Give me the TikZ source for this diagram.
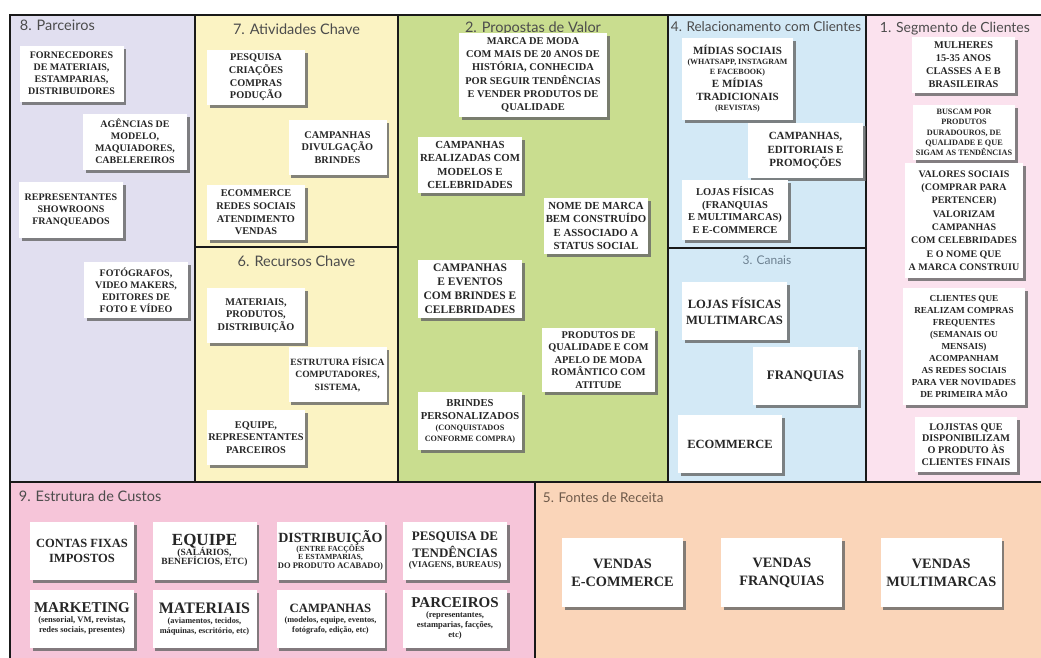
\documentclass[tikz,border=0pt]{standalone}
\usepackage{fontspec}
\setmainfont{Liberation Serif}
\newfontfamily\headfont{Lato}
\usepackage{tikz}
\usetikzlibrary{shadows}
\usetikzlibrary{positioning}
\definecolor{lavanda}{HTML}{E1DFF0}
\definecolor{amarelo}{HTML}{FBF3C3}
\definecolor{verde}{HTML}{C9DD8F}
\definecolor{azul}{HTML}{D3E9F6}
\definecolor{rosaclaro}{HTML}{FBE2EE}
\definecolor{rosa}{HTML}{F6C5D9}
\definecolor{pessego}{HTML}{FAD5B9}
\definecolor{cinzaazul}{HTML}{6C8090}
\definecolor{marrom}{HTML}{6E5A4A}
\newcommand{\sz}[2]{{\fontsize{#1}{#1}\selectfont #2}}
\tikzstyle{region} = [rectangle, draw=black!90, line width=2.5pt, inner sep=0pt]
\tikzstyle{card} = [rectangle, fill=white, align=center, inner sep=1pt,
    minimum width=104pt, minimum height=56pt, text=black!85,
    font=\bfseries\fontsize{10}{12}\selectfont,
    drop shadow={shadow xshift=2.5pt, shadow yshift=-3pt, fill=black!60, opacity=.8}]
\tikzstyle{midcard} = [card, minimum width=98pt, minimum height=55pt,
    font=\bfseries\fontsize{10.3}{12.7}\selectfont]
\tikzstyle{costcard} = [card, minimum height=58pt, font=\bfseries\fontsize{10}{11}\selectfont]
\tikzstyle{salecard} = [card, minimum width=121pt, minimum height=69pt,
    font=\bfseries\fontsize{14.3}{18}\selectfont]
\tikzstyle{head} = [font=\headfont\fontsize{14.5}{16}\selectfont, text=black!70, inner sep=0pt]

\begin{document}
\begin{tikzpicture}[x=1pt,y=-1pt]
    \useasboundingbox (0,0) rectangle (1041,657);
    \clip (0,0) rectangle (1041,657);
    \fill[white] (0,0) rectangle (1041,657);
    % Place blocks
    \node[region, fill=lavanda, minimum width=185pt, minimum height=467pt] (parceiros) at (102.5,248.5) {};
    \node[region, fill=amarelo, minimum width=203pt, minimum height=232pt] (atividades) at (296.5,131) {};
    \node[region, fill=amarelo, minimum width=203pt, minimum height=235pt] (recursos) at (296.5,364.5) {};
    \node[region, fill=verde, minimum width=270pt, minimum height=467pt] (propostas) at (533,248.5) {};
    \node[region, fill=azul, minimum width=198pt, minimum height=233pt] (relacionamento) at (767,131.5) {};
    \node[region, fill=azul, minimum width=198pt, minimum height=234pt] (canais) at (767,365) {};
    \node[region, fill=rosaclaro, minimum width=184pt, minimum height=467pt] (segmento) at (958,248.5) {};
    \node[region, fill=rosa, minimum width=525pt, minimum height=183pt] (custos) at (272.5,573.5) {};
    \node[region, fill=pessego, minimum width=515pt, minimum height=183pt] (fontes) at (792.5,573.5) {};
    % Titles
    \node[head, below right=6pt and 11pt of parceiros.north west] (hparc) {8. Parceiros};
    \node[head, below=10pt of atividades.north] (hativ) {7. Atividades Chave};
    \node[head, below=10pt of recursos.north] (hrec) {6. Recursos Chave};
    \node[head, below=8pt of propostas.north] (hprop) {2. Propostas de Valor};
    \node[head, font=\headfont\fontsize{13.5}{15}\selectfont, below right=8pt and 4pt of relacionamento.north west] (hrel) {4. Relacionamento com Clientes};
    \node[head, font=\headfont\fontsize{12}{14}\selectfont, text=cinzaazul, below=9pt of canais.north] (hcan) {3. Canais};
    \node[head, font=\headfont\fontsize{14}{16}\selectfont, below right=8pt and 15pt of segmento.north west] (hseg) {1. Segmento de Clientes};
    \node[head, below right=10pt and 10pt of custos.north west] (hcust) {9. Estrutura de Custos};
    \node[head, font=\headfont\fontsize{13.5}{15}\selectfont, text=marrom, below right=12pt and 9pt of fontes.north west] (hfont) {5. Fontes de Receita};
    % Parceiros
    \node[card] (parc1) at (71.5,73.5) {FORNECEDORES\\DE MATERIAIS,\\ESTAMPARIAS,\\DISTRIBUIDORES};
    \node[card] (parc2) at (135,141.5) {AGÊNCIAS DE\\MODELO,\\MAQUIADORES,\\CABELEREIROS};
    \node[card] (parc3) at (71,210) {REPRESENTANTES\\SHOWROONS\\FRANQUEADOS};
    \node[card] (parc4) at (136,290) {FOTÓGRAFOS,\\VIDEO MAKERS,\\EDITORES DE\\FOTO E VÍDEO};
    % Atividades e recursos
    \node[midcard] (ativ1) at (256,77.5) {PESQUISA\\CRIAÇÕES\\COMPRAS\\PODUÇÃO};
    \node[midcard] (ativ2) at (337.5,147.5) {CAMPANHAS\\DIVULGAÇÃO\\BRINDES};
    \node[midcard] (ativ3) at (256,212.5) {ECOMMERCE\\REDES SOCIAIS\\ATENDIMENTO\\VENDAS};
    \node[midcard] (rec1) at (256,315.5) {MATERIAIS,\\PRODUTOS,\\DISTRIBUIÇÃO};
    \node[midcard, font=\bfseries\fontsize{9.6}{12.5}\selectfont] (rec2) at (337.5,374.5) {ESTRUTURA FÍSICA\\COMPUTADORES,\\SISTEMA,};
    \node[midcard] (rec3) at (256,437.5) {EQUIPE,\\REPRESENTANTES\\PARCEIROS};
    % Propostas de valor
    \node[card, minimum width=148pt, minimum height=84pt, font=\bfseries\fontsize{10.4}{13.3}\selectfont] (prop1) at (533,75)
        {MARCA DE MODA\\COM MAIS DE 20 ANOS DE\\HISTÓRIA, CONHECIDA\\POR SEGUIR TENDÊNCIAS\\E VENDER PRODUTOS DE\\QUALIDADE};
    \node[card, font=\bfseries\fontsize{10.8}{13.3}\selectfont] (prop2) at (470,165) {CAMPANHAS\\REALIZADAS COM\\MODELOS E\\CELEBRIDADES};
    \node[card, font=\bfseries\fontsize{10.8}{13.3}\selectfont] (prop3) at (596,226) {NOME DE MARCA\\BEM CONSTRUÍDO\\E ASSOCIADO A\\STATUS SOCIAL};
    \node[card, minimum height=58pt, font=\bfseries\fontsize{11.5}{14}\selectfont] (prop4) at (470,289) {CAMPANHAS\\E EVENTOS\\COM BRINDES E\\CELEBRIDADES};
    \node[card, minimum width=113pt, minimum height=64pt, font=\bfseries\fontsize{10.3}{12.5}\selectfont] (prop5) at (598.5,360)
        {PRODUTOS DE\\QUALIDADE E COM\\APELO DE MODA\\ROMÂNTICO COM\\ATITUDE};
    \node[card, minimum height=58pt, font=\bfseries\fontsize{10.6}{13}\selectfont] (prop6) at (470,421)
        {BRINDES\\PERSONALIZADOS\\[-2pt]\sz{8.2}{(CONQUISTADOS}\\[-2pt]\sz{8.2}{CONFORME COMPRA)}};
    % Relacionamento e canais
    \node[card, minimum width=111pt, minimum height=82pt, font=\bfseries\fontsize{11}{13}\selectfont] (rel1) at (737.5,79)
        {MÍDIAS SOCIAIS\\[-3pt]\sz{8}{(WHATSAPP, INSTAGRAM}\\[-3pt]\sz{8}{E FACEBOOK)}\\E MÍDIAS\\TRADICIONAIS\\[-3pt]\sz{8}{(REVISTAS)}};
    \node[card, minimum width=115pt, minimum height=55pt, font=\bfseries\fontsize{11}{13.5}\selectfont] (rel2) at (805.5,150.5) {CAMPANHAS,\\EDITORIAIS E\\PROMOÇÕES};
    \node[card, minimum width=106pt, minimum height=60pt, font=\bfseries\fontsize{10.5}{12.7}\selectfont] (rel3) at (735,210) {LOJAS FÍSICAS\\(FRANQUIAS\\E MULTIMARCAS)\\E E-COMMERCE};
    \node[card, minimum width=105pt, minimum height=58pt, font=\bfseries\fontsize{12.6}{16}\selectfont] (can1) at (734.5,311) {LOJAS FÍSICAS\\MULTIMARCAS};
    \node[card, minimum width=105pt, minimum height=58pt, font=\bfseries\fontsize{13}{16}\selectfont] (can2) at (805.5,376) {FRANQUIAS};
    \node[card, minimum height=58pt, font=\bfseries\fontsize{12.5}{16}\selectfont] (can3) at (730,444) {ECOMMERCE};
    % Segmento de clientes
    \node[card, minimum width=103pt, font=\bfseries\fontsize{10.3}{13}\selectfont] (seg1) at (963.5,65) {MULHERES\\15-35 ANOS\\CLASSES A E B\\BRASILEIRAS};
    \node[card, minimum width=102pt, minimum height=55pt, font=\bfseries\fontsize{8.2}{10.2}\selectfont] (seg2) at (964,132.5)
        {BUSCAM POR\\PRODUTOS\\DURADOUROS, DE\\QUALIDADE E QUE\\SIGAM AS TENDÊNCIAS};
    \node[card, minimum width=118pt, minimum height=115pt, font=\bfseries\fontsize{10}{13.3}\selectfont] (seg3) at (964,220.5)
        {VALORES SOCIAIS\\(COMPRAR PARA\\PERTENCER)\\VALORIZAM\\CAMPANHAS\\COM CELEBRIDADES\\E O NOME QUE\\A MARCA CONSTRUIU};
    \node[card, minimum width=122pt, minimum height=117pt, font=\bfseries\fontsize{9.2}{12}\selectfont] (seg4) at (964,346.5)
        {CLIENTES QUE\\REALIZAM COMPRAS\\FREQUENTES\\(SEMANAIS OU\\MENSAIS)\\ACOMPANHAM\\AS REDES SOCIAIS\\PARA VER NOVIDADES\\DE PRIMEIRA MÃO};
    \node[card, minimum width=102pt, minimum height=55pt, font=\bfseries\fontsize{10.2}{11.8}\selectfont] (seg5) at (966,444.5)
        {LOJISTAS QUE\\DISPONIBILIZAM\\O PRODUTO ÀS\\CLIENTES FINAIS};
    % Estrutura de custos
    \node[costcard, font=\bfseries\fontsize{12.5}{15}\selectfont] (cost1) at (82,550.5) {CONTAS FIXAS\\IMPOSTOS};
    \node[costcard] (cost2) at (204.5,550.5) {\sz{17}{EQUIPE}\\[-1pt]\sz{9.5}{(SALÁRIOS,}\\[-2pt]\sz{9.5}{BENEFÍCIOS, ETC)}};
    \node[costcard, minimum width=108pt] (cost3) at (330.5,550.5)
        {\sz{14}{DISTRIBUIÇÃO}\\[-2pt]\sz{7.8}{(ENTRE FACÇÕES}\\[-3pt]\sz{7.8}{E ESTAMPARIAS,}\\[-2pt]\sz{8.5}{DO PRODUTO ACABADO)}};
    \node[costcard] (cost4) at (455,550.5) {\sz{13}{PESQUISA DE}\\[2pt]\sz{13}{TENDÊNCIAS}\\[-1pt]\sz{8.8}{(VIAGENS, BUREAUS)}};
    \node[costcard, below=10pt of cost1] (cost5) {\sz{15}{MARKETING}\\[-1pt]\sz{8.5}{(sensorial, VM, revistas,}\\[-1pt]\sz{8.5}{redes sociais, presentes)}};
    \node[costcard, below=10pt of cost2] (cost6) {\sz{16}{MATERIAIS}\\[-1pt]\sz{8.3}{(aviamentos, tecidos,}\\[-1pt]\sz{8.3}{máquinas, escritório, etc)}};
    \node[costcard, minimum width=108pt, below=10pt of cost3] (cost7) {\sz{12.7}{CAMPANHAS}\\[-1pt]\sz{8.3}{(modelos, equipe, eventos,}\\[-1pt]\sz{8.3}{fotógrafo, edição, etc)}};
    \node[costcard, below=10pt of cost4] (cost8) {\sz{15}{PARCEIROS}\\[-1pt]\sz{8.5}{(representantes,}\\[-1pt]\sz{8.5}{estamparias, facções,}\\[-1pt]\sz{8.5}{etc)}};
    % Fontes de receita
    \node[salecard] (venda1) at (622.5,572.5) {VENDAS\\E-COMMERCE};
    \node[salecard, right=38pt of venda1] (venda2) {VENDAS\\FRANQUIAS};
    \node[salecard, right=38pt of venda2] (venda3) {VENDAS\\MULTIMARCAS};
\end{tikzpicture}
\end{document}
